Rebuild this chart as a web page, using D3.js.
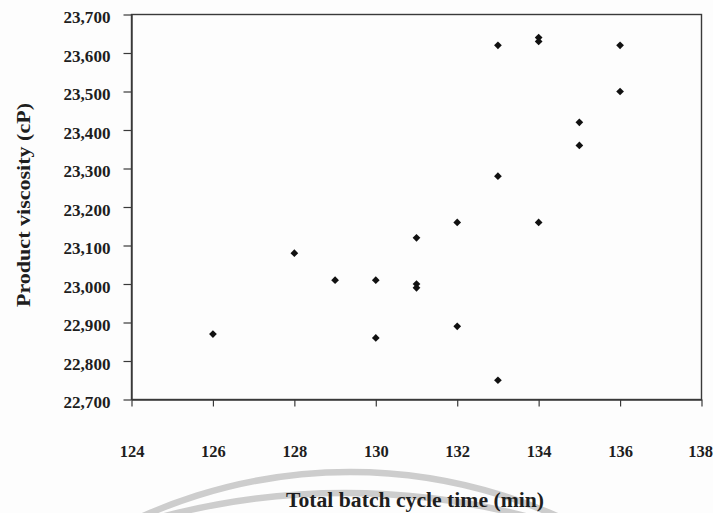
<!DOCTYPE html>
<html>
<head>
<meta charset="utf-8">
<script src="https://cdn.jsdelivr.net/npm/d3@7"></script>
<style>
  html, body { margin: 0; padding: 0; background: #fdfdfd; }
  svg { display: block; }
  text { font-family: "Liberation Serif", "Times New Roman", serif; font-weight: bold; fill: #1e1e1e; }
</style>
</head>
<body>
<svg id="chart" width="713" height="513"></svg>
<script>
// ---- data ----
const cycleTime = [126, 128, 129, 130, 130, 131, 131, 131, 132, 132, 133, 133, 133, 134, 134, 134, 135, 135, 136, 136];
const viscosity = [22870, 23080, 23010, 23010, 22860, 23120, 23000, 22990, 23160, 22890, 23620, 23280, 22750, 23640, 23630, 23160, 23420, 23360, 23620, 23500];
const xTicks = [124, 126, 128, 130, 132, 134, 136, 138];
const yTicks = [22700, 22800, 22900, 23000, 23100, 23200, 23300, 23400, 23500, 23600, 23700];
const xTitle = "Total batch cycle time (min)";
const yTitle = "Product viscosity (cP)";

const svg = d3.select("#chart");
const L = 131.5, R = 701.5, T = 14.5, B = 399.5;

const x = d3.scaleLinear().domain([124, 138]).range([L, R]);
const y = d3.scaleLinear().domain([22700, 23700]).range([B, T]);

// background watermark arcs (decorative)
const wm = svg.append("g").attr("fill", "none").attr("stroke", "#cdcdcd").attr("stroke-width", 6.5);
const p1 = d3.path(); p1.arc(350, 980, 508, Math.PI * 1.1, Math.PI * 1.9);
wm.append("path").attr("d", p1.toString());
const p2 = d3.path(); p2.arc(345, 1208, 715, Math.PI * 1.3, Math.PI * 1.7);
wm.append("path").attr("d", p2.toString());

// frame
svg.append("rect").attr("x", L).attr("y", T).attr("width", R - L).attr("height", B - T)
  .attr("fill", "none").attr("stroke", "#3a3a3a").attr("stroke-width", 1.4);

// y axis
const yAxis = svg.append("g").attr("transform", `translate(${L},0)`)
  .call(d3.axisLeft(y).tickValues(yTicks).tickFormat(d3.format(",")).tickSize(8).tickSizeOuter(0).tickPadding(13));
yAxis.select(".domain").attr("stroke", "#3a3a3a").attr("stroke-width", 1.4);
yAxis.selectAll(".tick line").attr("stroke", "#3a3a3a").attr("stroke-width", 1.2);
yAxis.selectAll(".tick text").attr("font-size", 16.5).attr("dy", "0.5em")
  .attr("textLength", 47).attr("lengthAdjust", "spacingAndGlyphs")
  .attr("font-family", "Liberation Serif, serif").attr("font-weight", "bold").attr("fill", "#1e1e1e");

// x axis
const xAxis = svg.append("g").attr("transform", `translate(0,${B})`)
  .call(d3.axisBottom(x).tickValues(xTicks).tickFormat(d3.format("d")).tickSize(7).tickSizeOuter(0).tickPadding(39));
xAxis.select(".domain").attr("stroke", "#3a3a3a").attr("stroke-width", 1.4);
xAxis.selectAll(".tick line").attr("stroke", "#3a3a3a").attr("stroke-width", 1.2);
xAxis.selectAll(".tick text").attr("font-size", 16.5)
  .attr("dx", d => d === 138 ? -1.5 : 0)
  .attr("font-family", "Liberation Serif, serif").attr("font-weight", "bold").attr("fill", "#1e1e1e");

// points
const pts = cycleTime.map((t, i) => ({ t, v: viscosity[i] }));
const sym = d3.symbol().type(d3.symbolDiamond2).size(38);
svg.append("g").selectAll("path").data(pts).join("path")
  .attr("d", sym)
  .attr("transform", d => `translate(${x(d.t)},${y(d.v)})`)
  .attr("fill", "#111");

// titles
svg.append("text").attr("x", 415).attr("y", 507).attr("text-anchor", "middle")
  .attr("font-size", 20).attr("textLength", 258).attr("lengthAdjust", "spacingAndGlyphs").text(xTitle);
svg.append("text").attr("transform", "translate(30,205) rotate(-90)").attr("text-anchor", "middle")
  .attr("font-size", 19.5).attr("textLength", 204).attr("lengthAdjust", "spacingAndGlyphs").text(yTitle);
</script>
</body>
</html>
